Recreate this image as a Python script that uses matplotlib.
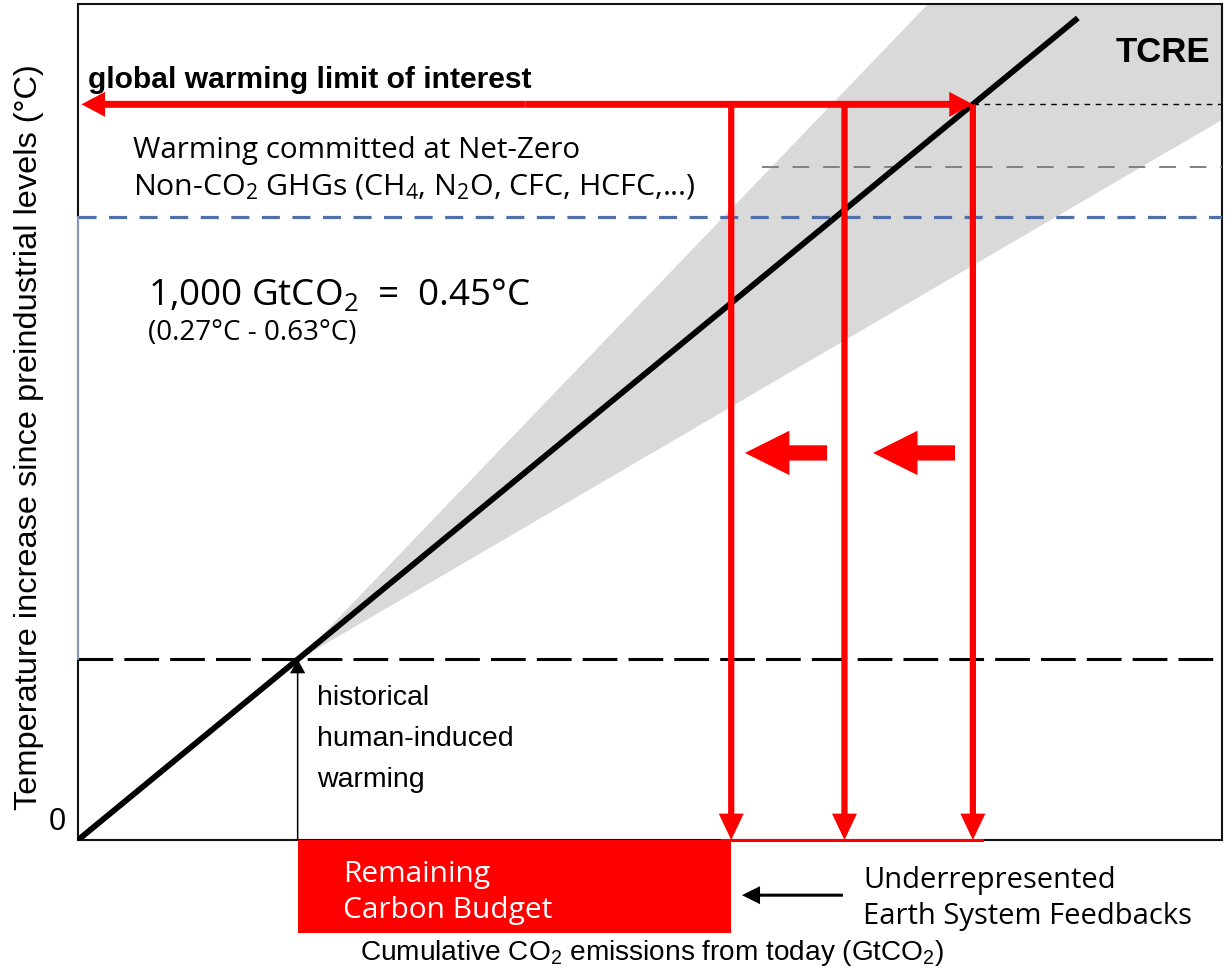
import matplotlib
matplotlib.use("Agg")
import matplotlib.pyplot as plt
from matplotlib.patches import Rectangle

plt.rcParams['lines.scale_dashes'] = False
plt.rcParams['mathtext.default'] = 'regular'

# schematic axis ranges
E_MAX = 5000      # cumulative emissions, GtCO2
T_MAX = 2.0       # warming, degC

# TCRE: central value and likely range (degC per GtCO2)
tcre = 0.45 / 1000
tcre_low = 0.32 / 1000
tcre_high = 0.57 / 1000
line_end_E = 4370

# historical human-induced warming
hist_E = 960
hist_T = tcre * hist_E

# warming levels
limit_T = 1.76          # global warming limit of interest
limit_E = limit_T / tcre
non_co2_T = 1.49        # after warming committed from non-CO2 GHGs
feedback_T = 1.61

# where the budget ends for each case
budget_E = [2855, 3350, limit_E]

hist_lines = ['historical', 'human-induced', 'warming']
budget_lines = ['Remaining', 'Carbon Budget']
feedback_lines = ['Underrepresented', 'Earth System Feedbacks']

ARIAL = ['Liberation Sans', 'DejaVu Sans']
SOFT = ['Open Sans', 'DejaVu Sans']
RED = '#ff0000'

fig = plt.figure(figsize=(12.27, 9.74), dpi=100)
ax = fig.add_axes([78 / 1227, 134 / 974, 1144 / 1227, 836 / 974])
ax.set_xlim(0, E_MAX)
ax.set_ylim(0, T_MAX)
ax.set_xticks([])
ax.set_yticks([])
for s in ax.spines.values():
    s.set_linewidth(1.5)
    s.set_color('#111111')


def arrow(start, end, color, tail, head_w, head_l, z=5):
    ax.annotate('', xy=end, xytext=start, annotation_clip=False, zorder=z,
                arrowprops=dict(arrowstyle=f'simple,head_length={head_l},head_width={head_w},tail_width={tail}',
                                mutation_scale=1, color=color, lw=0, shrinkA=0, shrinkB=0))


# TCRE uncertainty cone from today's warming
xs = [hist_E, E_MAX]
lo = [hist_T + tcre_low * (x - hist_E) for x in xs]
hi = [hist_T + tcre_high * (x - hist_E) for x in xs]
ax.fill_between(xs, lo, hi, color='#d9d9d9', lw=0, zorder=1)

# central TCRE line
ax.plot([0, line_end_E], [0, tcre * line_end_E], color='black', lw=4.2,
        solid_capstyle='butt', zorder=4)

# reference levels
ax.plot([0, E_MAX], [hist_T, hist_T], color='black', lw=2.2, dashes=(25, 8), zorder=3)
ax.plot([0, E_MAX], [non_co2_T, non_co2_T], color='#4f6fa8', lw=2.3, dashes=(13, 9), zorder=3)
ax.plot([2990, E_MAX], [feedback_T, feedback_T], color='#808080', lw=1.4, dashes=(12, 10), zorder=3)
ax.plot([limit_E, E_MAX], [limit_T, limit_T], color='black', lw=1.0, dashes=(4, 4), zorder=3)
ax.plot([0, 0], [hist_T, non_co2_T], color='#9db4dc', lw=1.2, zorder=6, clip_on=False)

# warming limit arrow, both ways
mid = limit_E / 2
arrow((mid, limit_T), (0.003 * E_MAX, limit_T), RED, 5, 18, 17)
arrow((mid, limit_T), (limit_E, limit_T), RED, 5, 18, 17)

# budget arrows down to the emissions axis
for e in budget_E:
    arrow((e, limit_T), (e, 0), RED, 4.5, 18, 19)
ax.plot([budget_E[0] - 40, budget_E[-1] + 40], [0, 0], color=RED, lw=2.2,
        clip_on=False, zorder=6)

# budget shrinking arrows
arrow((3274, 0.926), (2915, 0.926), RED, 11, 32, 32)
arrow((3833, 0.926), (3475, 0.926), RED, 11, 32, 32)

# historical warming arrow
arrow((hist_E, 0), (hist_E, hist_T), 'black', 1.1, 11, 10)
for i, line in enumerate(hist_lines):
    ax.text(1045, 0.323 - 0.098 * i, line, fontsize=20.5, family=ARIAL, va='baseline')

# remaining carbon budget box
ax.add_patch(Rectangle((hist_E, -0.2225), budget_E[0] - hist_E, 0.2225,
                       facecolor=RED, edgecolor='none', clip_on=False, zorder=6))
for i, line in enumerate(budget_lines):
    ax.text(1158, -0.10 - 0.086 * i, line, color='white', fontsize=21.5, family=SOFT,
            va='baseline', zorder=7)

arrow((3343, -0.132), (2902, -0.132), 'black', 2.2, 13, 13)
for i, line in enumerate(feedback_lines):
    ax.text(3431, -0.115 - 0.085 * i, line, fontsize=21, family=SOFT, va='baseline')

# labels
ax.text(44, 1.80, 'global warming limit of interest', fontsize=21.6, weight='bold',
        family=ARIAL, va='baseline')
ax.text(4948, 1.861, 'TCRE', fontsize=25, weight='bold', family=ARIAL,
        ha='right', va='baseline')
ax.text(240, 1.632, 'Warming committed at Net-Zero', fontsize=21.3, family=SOFT,
        va='baseline')
ax.text(240, 1.543, r'Non-CO$_\mathregular{2}$ GHGs (CH$_\mathregular{4}$, N$_\mathregular{2}$O, CFC, HCFC,...)',
        fontsize=21.8, family=SOFT, va='baseline')
ax.text(306, 1.28, r'1,000 GtCO$_\mathregular{2}$  =  0.45°C', fontsize=26.5,
        family=SOFT, va='baseline')
ax.text(306, 1.196, '(0.27°C - 0.63°C)', fontsize=20, family=SOFT, va='baseline')

ax.text(-92, 0.043, '0', fontsize=22, family=ARIAL, ha='center', va='center',
        clip_on=False)
ax.text(2509, -0.287, r'Cumulative CO$_\mathregular{2}$ emissions from today (GtCO$_\mathregular{2}$)',
        fontsize=20.2, family=ARIAL, ha='center', va='baseline')
fig.text(29 / 1227, 1 - 437 / 974, 'Temperature increase since preindustrial levels (°C)',
         fontsize=23.4, family=ARIAL, rotation=90, ha='center', va='center')

fig.savefig('out.png', dpi=100)
